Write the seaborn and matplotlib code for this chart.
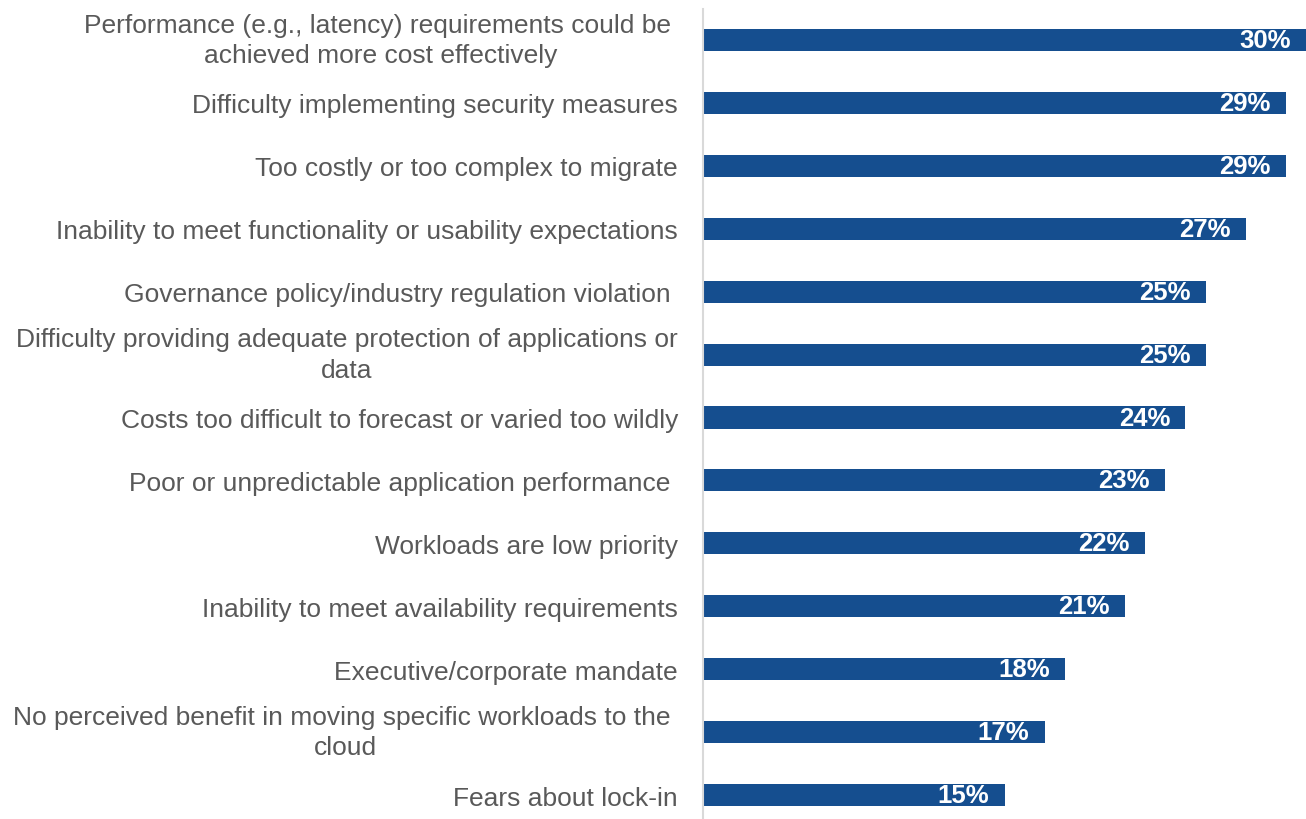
import numpy as np
import pandas as pd
import seaborn as sns
import matplotlib.pyplot as plt

# ======= Data =======
categories = [
    "Performance (e.g., latency) requirements could be \nachieved more cost effectively",
    "Difficulty implementing security measures",
    "Too costly or too complex to migrate",
    "Inability to meet functionality or usability expectations",
    "Governance policy/industry regulation violation ",
    "Difficulty providing adequate protection of applications or\ndata",
    "Costs too difficult to forecast or varied too wildly",
    "Poor or unpredictable application performance ",
    "Workloads are low priority",
    "Inability to meet availability requirements",
    "Executive/corporate mandate",
    "No perceived benefit in moving specific workloads to the \ncloud",
    "Fears about lock-in",
]
values = [30, 29, 29, 27, 25, 25, 24, 23, 22, 21, 18, 17, 15]

bar_color = "#154E8F"
text_color = "#595959"

# ======= Style =======
sns.set_style("white")
plt.rcParams["font.family"] = ["Liberation Sans", "DejaVu Sans"]

df = pd.DataFrame({"reason": categories, "pct": values})

fig = plt.figure(figsize=(13.06, 8.2), dpi=100)
ax = fig.add_axes([703 / 1306, -7.5 / 820, 603 / 1306, 818 / 820])

sns.barplot(data=df, x="pct", y="reason", orient="h", color=bar_color,
            saturation=1, width=0.35, linewidth=0, ax=ax)

ax.set_xlim(0, 30)
ax.set_ylim(len(categories) - 0.5, -0.5)
ax.set_xlabel("")
ax.set_ylabel("")
ax.set_xticks([])

# ======= Tick labels =======
ax.set_yticks(range(len(categories)))
ax.set_yticklabels(categories, fontsize=19, color=text_color)
for t in ax.get_yticklabels():
    t.set_multialignment("center")
    t.set_linespacing(1.33)
    if "\n" in t.get_text():
        t.set_verticalalignment("center")
ax.tick_params(axis="y", length=0, pad=18)

# ======= Spines =======
for s in ["top", "right", "bottom"]:
    ax.spines[s].set_visible(False)
ax.spines["left"].set_color("#D9D9D9")
ax.spines["left"].set_linewidth(1.5)

# ======= Value labels =======
for i, v in enumerate(values):
    ax.annotate(f"{v}%", xy=(v, i), xytext=(-11, 0), textcoords="offset points",
                ha="right", va="center", color="white", fontsize=18.5,
                fontweight="bold")

plt.savefig("out.png", dpi=100)
plt.close()
